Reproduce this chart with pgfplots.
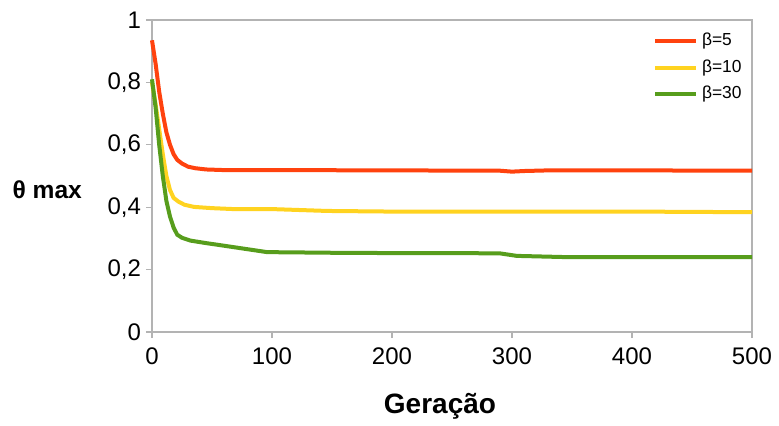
\documentclass[border=0pt]{standalone}
\usepackage{pgfplots}
\pgfplotsset{compat=1.18}
\usepackage{fontspec}
\setmainfont{Liberation Sans}
\definecolor{cred}{HTML}{FF420E}
\definecolor{cyel}{HTML}{FFD320}
\definecolor{cgrn}{HTML}{579D1C}
\definecolor{axgray}{HTML}{B3B3B3}
\begin{document}
\begin{tikzpicture}
\begin{axis}[
  scale only axis, width=300pt, height=156pt,
  xmin=0, xmax=500, ymin=0, ymax=1,
  xtick={0,100,...,500}, ytick={0,0.2,...,1},
  /pgf/number format/assume math mode=true,
  /pgf/number format/use comma,
  yticklabel style={/pgf/number format/fixed, font=\fontsize{12}{14}\selectfont, xshift=1pt},
  xticklabel style={font=\fontsize{12}{14}\selectfont, yshift=-1.5pt},
  axis line style={axgray, line width=0.6pt},
  tick style={axgray, line width=0.6pt},
  tick align=outside, major tick length=3pt,
  xtick pos=bottom, ytick pos=left,
  xlabel={\textbf{Geração}},
  xlabel style={font=\fontsize{14}{16}\selectfont, at={(axis description cs:0.48,0)}, anchor=center, yshift=-37pt},
  ylabel={\textbf{θ max}},
  ylabel style={font=\fontsize{12.3}{14}\selectfont, rotate=-90, at={(axis description cs:0,0.457)}, anchor=east, xshift=-31.5pt},
  legend style={draw=none, fill=none, at={(axis description cs:1,0.985)}, anchor=north east, font=\fontsize{8.7}{10}\selectfont, row sep=1.5pt},
  legend cell align=left,
  legend image code/.code={\draw[#1, line width=2pt] (0pt,0pt) -- (20.5pt,0pt);},
  clip=false,
]
\addplot[cred, line width=2pt] coordinates {
(0,0.935) (3,0.86) (6,0.77) (9,0.70) (12,0.64) (15,0.60) (18,0.57) (21,0.552) (25,0.540) (30,0.530) (36,0.525) (45,0.521) (60,0.519) (100,0.519) (200,0.518) (290,0.517) (300,0.514) (310,0.516) (330,0.518) (400,0.518) (500,0.517)};
\addlegendentry{β=5}
\addplot[cyel, line width=2pt] coordinates {
(0,0.80) (3,0.73) (6,0.65) (9,0.57) (12,0.50) (15,0.455) (18,0.43) (22,0.418) (27,0.408) (35,0.401) (50,0.397) (68,0.394) (100,0.394) (146,0.388) (200,0.386) (300,0.386) (400,0.386) (450,0.385) (500,0.384)};
\addlegendentry{β=10}
\addplot[cgrn, line width=2pt] coordinates {
(0,0.81) (3,0.72) (6,0.60) (9,0.50) (12,0.42) (15,0.37) (18,0.335) (21,0.312) (25,0.302) (32,0.293) (45,0.285) (54,0.280) (75,0.268) (96,0.256) (150,0.254) (200,0.253) (250,0.253) (290,0.252) (304,0.244) (346,0.240) (400,0.240) (450,0.240) (500,0.240)};
\addlegendentry{β=30}
\coordinate (SW) at (axis description cs:0,0);
\coordinate (NE) at (axis description cs:1,1);
\end{axis}
\path ([shift={(-76pt,-45.5pt)}]SW) rectangle ([shift={(13.5pt,10pt)}]NE);
\end{tikzpicture}
\end{document}
